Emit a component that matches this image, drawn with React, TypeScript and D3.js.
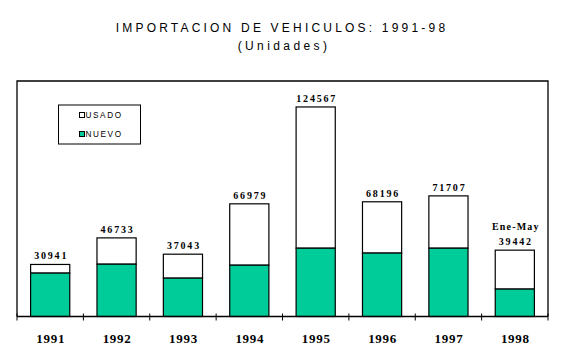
import React from "react";
import * as d3 from "d3";

const years = ["1991", "1992", "1993", "1994", "1995", "1996", "1997", "1998"];
const totals = [30941, 46733, 37043, 66979, 124567, 68196, 71707, 39442];
const nuevo = [25800, 31100, 22800, 30500, 40600, 37700, 40600, 16300];
const labels = ["30941", "46733", "37043", "66979", "124567", "68196", "71707", "39442"];
const extraLabel = ["", "", "", "", "", "", "", "Ene-May"];
const title = "IMPORTACION DE VEHICULOS: 1991-98";
const subtitle = "(Unidades)";
const legendItems = ["USADO", "NUEVO"];

const W = 562;
const H = 357;
const left = 17;
const right = 548;
const top = 81;
const bottom = 316.5;
const green = "#00CC99";

export default function App() {
  const x = d3
    .scaleBand<string>()
    .domain(years)
    .range([left, right])
    .paddingInner(0.41)
    .paddingOuter(0.205);
  const y = d3.scaleLinear().domain([0, 140000]).range([bottom, top]);
  const step = x.step();
  const tickXs = d3.range(years.length + 1).map((i) => left + i * step);

  return (
    <svg
      width={W}
      height={H}
      style={{ position: "absolute", left: 0, top: 0 }}
      xmlns="http://www.w3.org/2000/svg"
    >
      <rect x={0} y={0} width={W} height={H} fill="#fff" />
      <text
        x={282}
        y={32}
        textAnchor="middle"
        fontFamily="Liberation Sans, Arial, sans-serif"
        fontSize={12}
        letterSpacing={3.2}
        fill="#000"
      >
        {title}
      </text>
      <text
        x={284}
        y={50}
        textAnchor="middle"
        fontFamily="Liberation Sans, Arial, sans-serif"
        fontSize={12}
        letterSpacing={3.4}
        fill="#000"
      >
        {subtitle}
      </text>

      {/* frame */}
      <path
        d={`M${left},${bottom}V${top}H${right}V${bottom}`}
        fill="none"
        stroke="#000"
        strokeWidth={1.3}
      />

      {years.map((yr, i) => {
        const bx = x(yr)!;
        const bw = x.bandwidth();
        return (
          <g key={yr}>
            <rect
              x={bx}
              y={y(totals[i])}
              width={bw}
              height={y(nuevo[i]) - y(totals[i])}
              fill="#fff"
              stroke="#000"
              strokeWidth={1.2}
            />
            <rect
              x={bx}
              y={y(nuevo[i])}
              width={bw}
              height={bottom - y(nuevo[i])}
              fill={green}
              stroke="#000"
              strokeWidth={1.2}
            />
            <text
              x={bx + bw / 2 + 1}
              y={y(totals[i]) - 5}
              textAnchor="middle"
              fontFamily="Liberation Serif, Times New Roman, serif"
              fontWeight="bold"
              fontSize={10}
              letterSpacing={1.8}
              fill="#000"
            >
              {labels[i]}
            </text>
            {extraLabel[i] && (
              <text
                x={bx + bw / 2 + 1}
                y={y(totals[i]) - 20}
                textAnchor="middle"
                fontFamily="Liberation Serif, Times New Roman, serif"
                fontWeight="bold"
                fontSize={10}
                letterSpacing={1.2}
                fill="#000"
              >
                {extraLabel[i]}
              </text>
            )}
            <text
              x={bx + bw / 2 + 0.5}
              y={343}
              textAnchor="middle"
              fontFamily="Liberation Serif, Times New Roman, serif"
              fontWeight="bold"
              fontSize={13}
              letterSpacing={0.7}
              fill="#000"
            >
              {yr}
            </text>
          </g>
        );
      })}

      {/* axis line and ticks */}
      <line x1={left} x2={right} y1={bottom} y2={bottom} stroke="#000" strokeWidth={1.3} />
      {tickXs.map((tx, i) => (
        <line key={i} x1={tx} x2={tx} y1={bottom - 3} y2={bottom + 4} stroke="#000" strokeWidth={1} />
      ))}

      {/* legend */}
      <rect x={58.5} y={105} width={82} height={39} fill="#fff" stroke="#000" strokeWidth={1} />
      {legendItems.map((name, i) => (
        <g key={name}>
          <rect
            x={79.5}
            y={112.5 + i * 19}
            width={5}
            height={5}
            fill={i === 0 ? "#fff" : green}
            stroke="#000"
            strokeWidth={1}
          />
          <text
            x={85.5}
            y={118.2 + i * 19}
            fontFamily="Liberation Sans, Arial, sans-serif"
            fontSize={8.2}
            letterSpacing={1.6}
            fill="#000"
          >
            {name}
          </text>
        </g>
      ))}
    </svg>
  );
}
